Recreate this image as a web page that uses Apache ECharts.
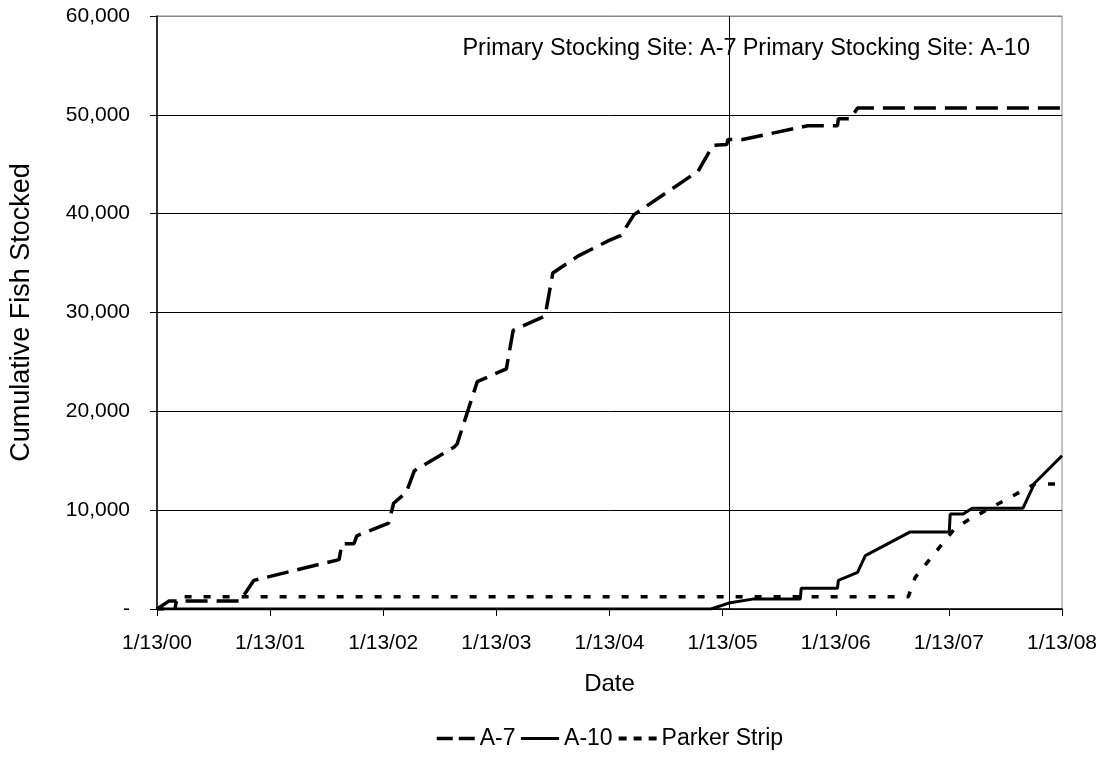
<!DOCTYPE html>
<html>
<head>
<meta charset="utf-8">
<script src="https://cdn.jsdelivr.net/npm/echarts@6/dist/echarts.min.js"></script>
<style>
  html, body { margin: 0; padding: 0; background: #fff; }
  #chart { width: 1107px; height: 757px; }
</style>
</head>
<body>
<div id="chart"></div>
<script>
// ---- Data ----
const startDate = '2000-01-13';
const xTickLabels = ['1/13/00', '1/13/01', '1/13/02', '1/13/03', '1/13/04', '1/13/05', '1/13/06', '1/13/07', '1/13/08'];
const yTicks = [0, 10000, 20000, 30000, 40000, 50000, 60000];
const siteChangeDate = '2005-02-04';
const annotationLeft = 'Primary Stocking Site: A-7';
const annotationRight = 'Primary Stocking Site: A-10';

const a7Dates = ['2000-01-13', '2000-02-20', '2000-10-07', '2000-11-21', '2001-08-23', '2001-09-01', '2001-10-10', '2001-10-19',
  '2002-01-30', '2002-02-15', '2002-03-28', '2002-04-23', '2002-08-30', '2002-09-08', '2002-11-12', '2003-02-14',
  '2003-03-08', '2003-06-19', '2003-07-14', '2003-10-03', '2004-01-12', '2004-02-19', '2004-04-01', '2004-10-25',
  '2004-12-12', '2005-01-26', '2005-01-29', '2005-03-18', '2005-10-14', '2006-01-18', '2006-01-21', '2006-03-01',
  '2006-03-24', '2008-01-13'];
const a7Values = [0, 800, 800, 2900, 5000, 6600, 6600, 7400,
  8700, 10700, 11800, 14000, 16400, 16700, 23000, 24300,
  28200, 29650, 34000, 35700, 37300, 37800, 39900, 44300,
  46900, 47000, 47500, 47500, 48900, 48900, 49600, 49600,
  50700, 50700];

const a10Dates = ['2000-01-13', '2004-12-06', '2005-02-01', '2005-04-19', '2005-09-20', '2005-09-23', '2006-01-18', '2006-01-21',
  '2006-03-24', '2006-04-18', '2006-09-10', '2007-01-14', '2007-01-17', '2007-02-28', '2007-03-29', '2007-09-09',
  '2007-10-17', '2008-01-13'];
const a10Values = [0, 0, 600, 1000, 1000, 2100, 2100, 2900,
  3700, 5400, 7800, 7800, 9600, 9600, 10200, 10200,
  12750, 15500];

const parkerDates = ['2000-01-13', '2000-03-11', '2000-03-18', '2006-09-04', '2006-09-26', '2007-02-02', '2007-03-22', '2007-10-17', '2008-01-13'];
const parkerValues = [0, 0, 1250, 1250, 3200, 8200, 9100, 12650, 12650];

// ---- Helpers ----
const DAY = 86400000;
function toYears(s) {
  const p = s.split('-').map(Number);
  const b = startDate.split('-').map(Number);
  return (Date.UTC(p[0], p[1] - 1, p[2]) - Date.UTC(b[0], b[1] - 1, b[2])) / (365.25 * DAY);
}
function pairs(dates, vals) { return dates.map((d, i) => [toYears(d), vals[i]]); }

const chart = echarts.init(document.getElementById('chart'), null, { renderer: 'canvas' });
const FONT = 'Liberation Sans, Arial, sans-serif';

const option = {
  backgroundColor: '#fff',
  animation: false,
  textStyle: { fontFamily: FONT, color: '#000' },
  grid: { left: 155, right: 45, top: 16, bottom: 148, show: true, borderColor: '#888', borderWidth: 1 },
  xAxis: {
    type: 'value', min: 0, max: xTickLabels.length - 1, interval: 1,
    name: 'Date', nameLocation: 'middle', nameGap: 63,
    nameTextStyle: { fontSize: 24, color: '#000', fontFamily: FONT },
    axisLine: { show: true, lineStyle: { color: '#000', width: 1.5 } },
    axisTick: { show: true, inside: false, length: 7, lineStyle: { color: '#000' } },
    axisLabel: { fontSize: 21, color: '#000', margin: 24, fontFamily: FONT,
      formatter: v => xTickLabels[Math.round(v)] || '' },
    splitLine: { show: false }
  },
  yAxis: {
    type: 'value', min: yTicks[0], max: yTicks[yTicks.length - 1], interval: yTicks[1] - yTicks[0],
    name: 'Cumulative Fish Stocked', nameLocation: 'middle', nameGap: 122, nameRotate: 90,
    nameTextStyle: { fontSize: 27, color: '#000', fontFamily: FONT },
    axisLine: { show: true, lineStyle: { color: '#000', width: 1.5 } },
    axisTick: { show: true, inside: false, length: 7, lineStyle: { color: '#000' } },
    axisLabel: { fontSize: 21, color: '#000', margin: 27, fontFamily: FONT,
      formatter: v => v === 0 ? '-' : v.toLocaleString('en-US') },
    splitLine: { show: true, lineStyle: { color: ['#000', '#000', '#000', '#000', '#000', '#000', '#888'], width: 1 } }
  },
  legend: {
    bottom: 2, left: 430, itemWidth: 38, itemHeight: 4, itemGap: 4,
    itemStyle: { opacity: 0 },
    textStyle: { fontSize: 23, color: '#000', fontFamily: FONT },
    data: [
      { name: 'A-7', lineStyle: { type: [16, 6], width: 3.5 } },
      { name: 'A-10', lineStyle: { type: 'solid', width: 3 } },
      { name: 'Parker Strip', lineStyle: { type: [8, 7], width: 4 } }
    ]
  },
  series: [
    {
      name: 'A-7', type: 'line', data: pairs(a7Dates, a7Values), showSymbol: false, symbol: 'none',
      lineStyle: { color: '#000', width: 3.5, type: [22, 9] }, itemStyle: { color: '#000' },
      markLine: {
        silent: true, symbol: 'none', label: { show: false },
        lineStyle: { color: '#000', width: 1, type: 'solid' },
        data: [{ xAxis: toYears(siteChangeDate) }]
      }
    },
    {
      name: 'A-10', type: 'line', data: pairs(a10Dates, a10Values), showSymbol: false, symbol: 'none',
      lineStyle: { color: '#000', width: 3, type: 'solid' }, itemStyle: { color: '#000' }
    },
    {
      name: 'Parker Strip', type: 'line', data: pairs(parkerDates, parkerValues), showSymbol: false, symbol: 'none',
      lineStyle: { color: '#000', width: 3.5, type: [7, 12] }, itemStyle: { color: '#000' }
    }
  ]
};
chart.setOption(option);

const lineX = chart.convertToPixel({ xAxisIndex: 0 }, toYears(siteChangeDate));
const topY = chart.convertToPixel({ yAxisIndex: 0 }, yTicks[yTicks.length - 1]);
chart.setOption({
  graphic: [
    { type: 'text', x: lineX + 7, y: topY + 33, style: { text: annotationLeft, fontSize: 23.5, fontFamily: FONT, fill: '#000', align: 'right', verticalAlign: 'middle' } },
    { type: 'text', x: lineX + 13, y: topY + 33, style: { text: annotationRight, fontSize: 23.5, fontFamily: FONT, fill: '#000', align: 'left', verticalAlign: 'middle' } }
  ]
});
</script>
</body>
</html>
